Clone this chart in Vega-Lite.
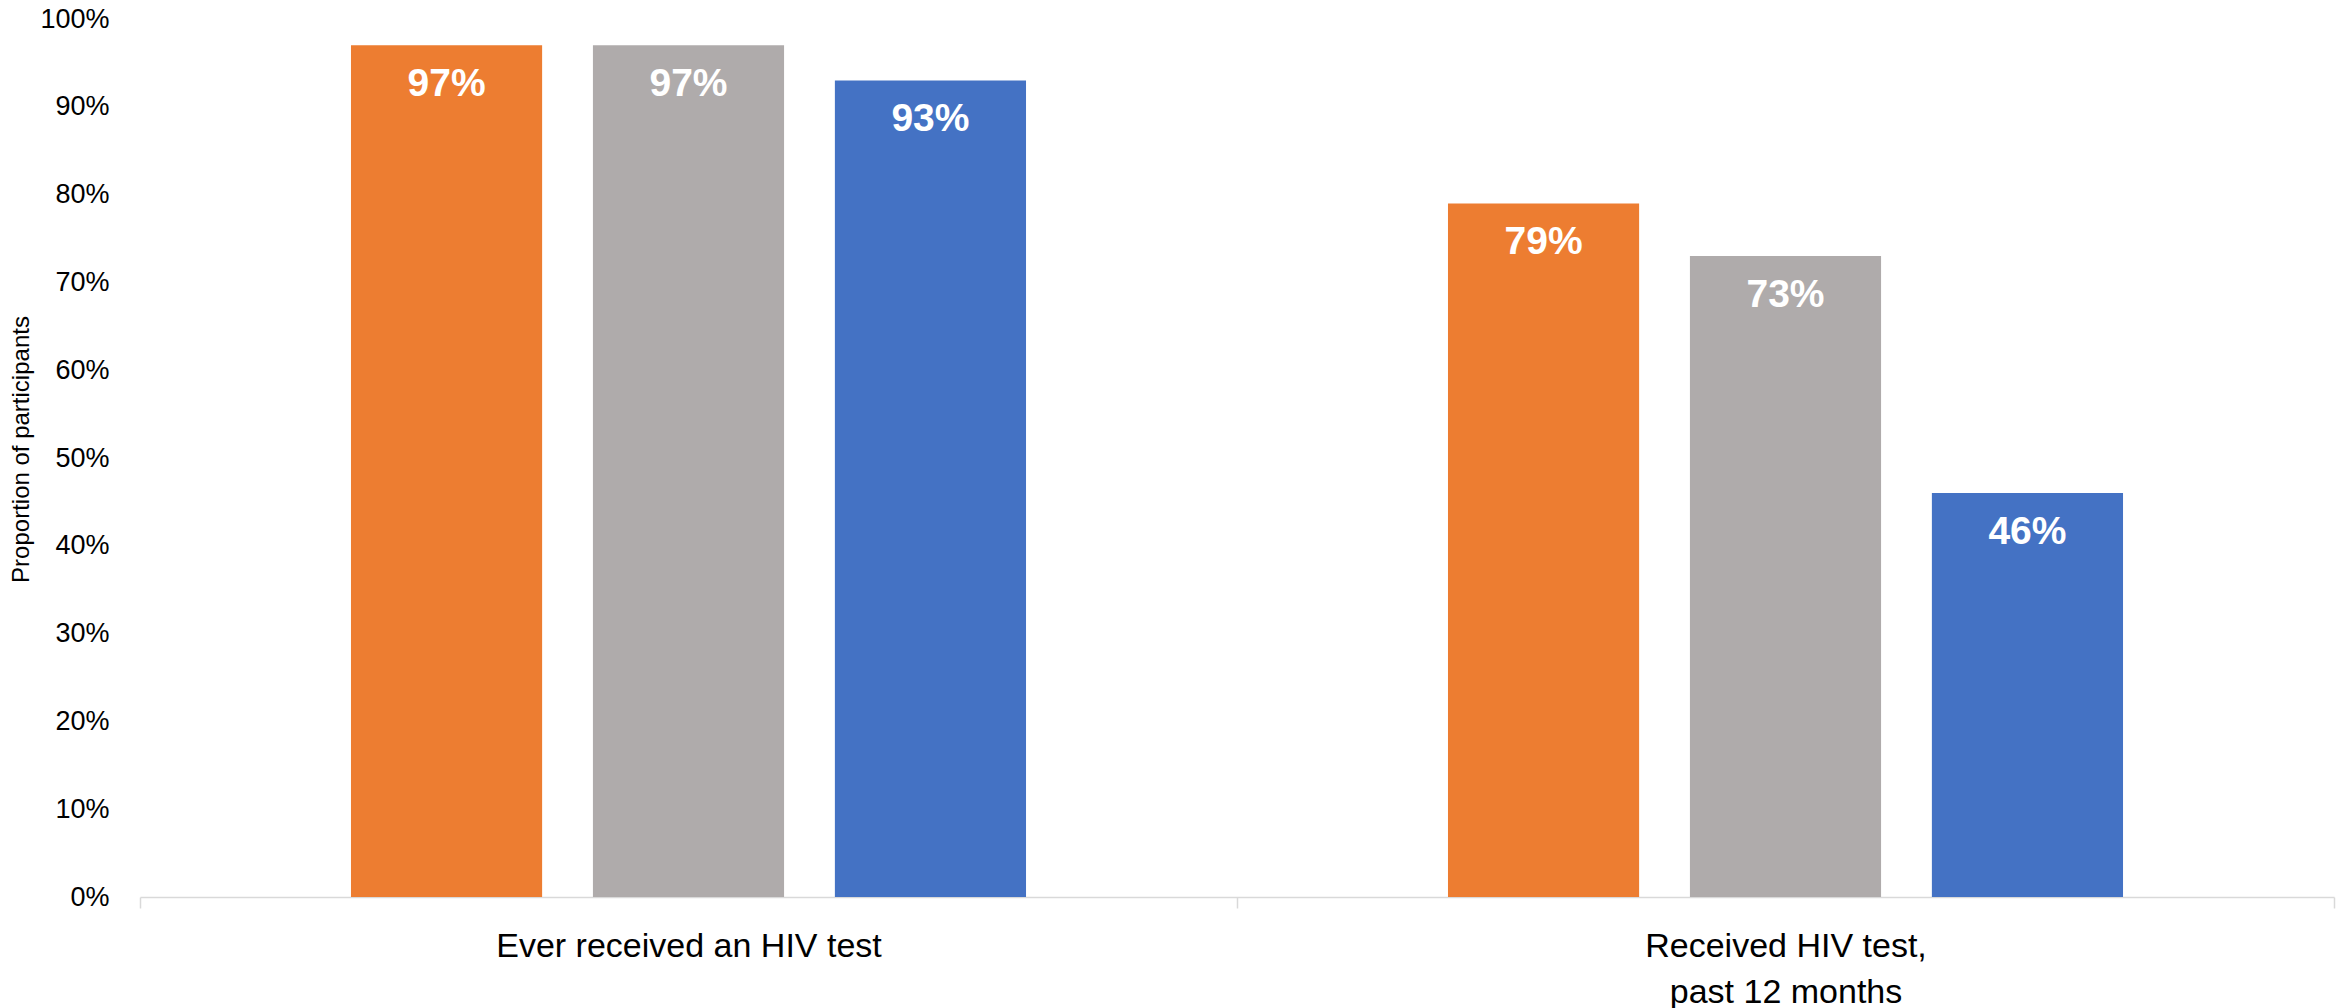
{
  "$schema": "https://vega.github.io/schema/vega-lite/v6.json",
  "autosize": "none",
  "width": 2194,
  "height": 878,
  "padding": {"left": 140, "top": 19, "right": 7, "bottom": 111},
  "background": "white",
  "config": {"view": {"stroke": null}},
  "data": {
    "values": [
      {"measure": "Ever received an HIV test", "group": "Group 1", "value": 0.97},
      {"measure": "Ever received an HIV test", "group": "Group 2", "value": 0.97},
      {"measure": "Ever received an HIV test", "group": "Group 3", "value": 0.93},
      {"measure": "Received HIV test, past 12 months", "group": "Group 1", "value": 0.79},
      {"measure": "Received HIV test, past 12 months", "group": "Group 2", "value": 0.73},
      {"measure": "Received HIV test, past 12 months", "group": "Group 3", "value": 0.46}
    ]
  },
  "encoding": {
    "x": {
      "field": "measure",
      "type": "nominal",
      "sort": null,
      "scale": {"paddingInner": 0, "paddingOuter": 0},
      "axis": {
        "title": null,
        "labelAngle": 0,
        "labelFont": "Liberation Sans",
        "labelFontSize": 34,
        "labelColor": "#000000",
        "labelBaseline": "top",
        "labelPadding": 21,
        "labelLineHeight": 46,
        "labelLimit": 0,
        "labelExpr": "datum.value == 'Received HIV test, past 12 months' ? ['Received HIV test,', 'past 12 months'] : datum.label",
        "domainColor": "#D9D9D9",
        "domainWidth": 1.5,
        "ticks": true,
        "tickBand": "extent",
        "tickColor": "#D9D9D9",
        "tickWidth": 1.5,
        "tickSize": 11
      }
    },
    "xOffset": {
      "field": "group",
      "type": "nominal",
      "scale": {"paddingInner": 0.21, "paddingOuter": 0.872}
    },
    "y": {
      "field": "value",
      "type": "quantitative",
      "scale": {"domain": [0, 1], "nice": false},
      "axis": {
        "title": "Proportion of participants",
        "titleFont": "Liberation Sans",
        "titleFontSize": 24,
        "titleFontWeight": "normal",
        "titleColor": "#000000",
        "titleX": -112,
        "titleY": 430,
        "titleBaseline": "alphabetic",
        "titleAngle": -90,
        "titleAlign": "center",
        "format": ".0%",
        "values": [0, 0.1, 0.2, 0.3, 0.4, 0.5, 0.6, 0.7, 0.8, 0.9, 1],
        "labelFont": "Liberation Sans",
        "labelFontSize": 27,
        "labelColor": "#000000",
        "labelPadding": 31,
        "ticks": false,
        "domain": false,
        "grid": false
      }
    }
  },
  "layer": [
    {
      "mark": {"type": "bar"},
      "encoding": {
        "color": {
          "field": "group",
          "type": "nominal",
          "scale": {"domain": ["Group 1", "Group 2", "Group 3"], "range": ["#ED7D31", "#AFABAB", "#4472C4"]},
          "legend": null
        }
      }
    },
    {
      "mark": {
        "type": "text",
        "font": "Liberation Sans",
        "fontSize": 39,
        "fontWeight": "bold",
        "color": "#FFFFFF",
        "baseline": "alphabetic",
        "align": "center",
        "dy": 51
      },
      "encoding": {
        "text": {"field": "value", "type": "quantitative", "format": ".0%"}
      }
    }
  ]
}
